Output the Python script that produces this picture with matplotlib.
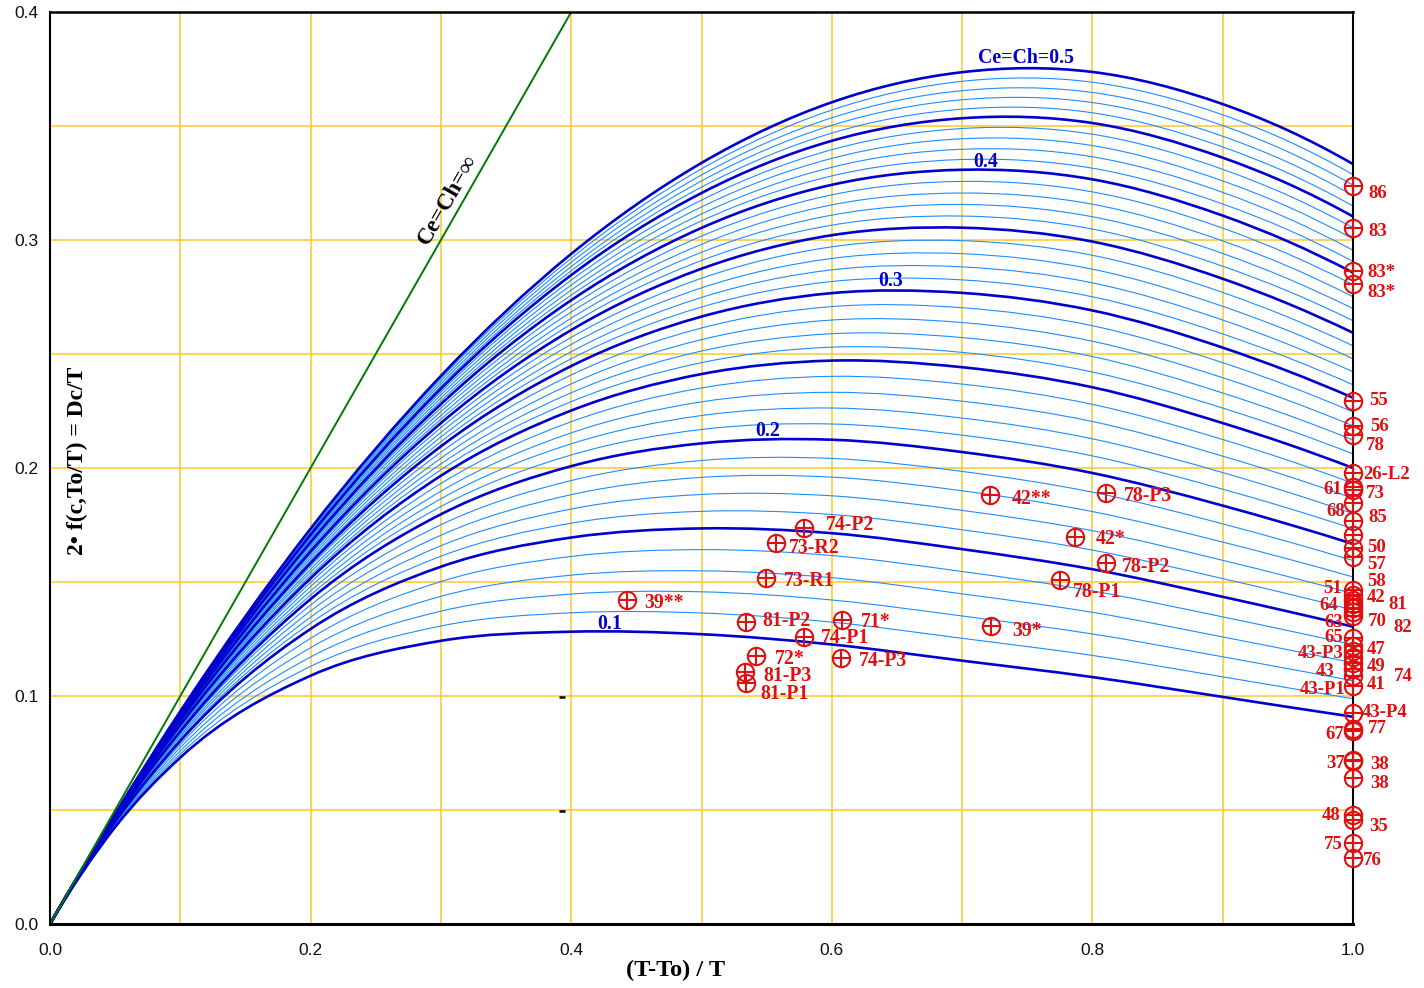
import matplotlib
matplotlib.use("Agg")
import matplotlib.pyplot as plt
from matplotlib.path import Path
from matplotlib.patches import PathPatch
import numpy as np

# ---------------------------------------------------------------------------
# Data
# ---------------------------------------------------------------------------
# Abscissa (T-To)/T at which every curve is tabulated
x_grid = [0.0, 0.05, 0.10, 0.20, 0.30, 0.40, 0.50, 0.60, 0.70, 0.80, 0.90, 0.95, 1.00]

# 2*f(c, To/T) for Ce = Ch = c, one list per c value
y_c10 = [0, 0.0425, 0.0730, 0.1089, 0.1242, 0.1282, 0.1271, 0.1226, 0.1155, 0.1083, 0.0996, 0.0952, 0.0909]
y_c11 = [0, 0.0430, 0.0745, 0.1130, 0.1307, 0.1365, 0.1364, 0.1324, 0.1253, 0.1178, 0.1084, 0.1036, 0.0988]
y_c12 = [0, 0.0434, 0.0759, 0.1171, 0.1372, 0.1447, 0.1457, 0.1421, 0.1351, 0.1272, 0.1172, 0.1120, 0.1067]
y_c13 = [0, 0.0439, 0.0774, 0.1212, 0.1437, 0.1530, 0.1549, 0.1519, 0.1448, 0.1367, 0.1259, 0.1203, 0.1146]
y_c14 = [0, 0.0443, 0.0788, 0.1253, 0.1502, 0.1612, 0.1642, 0.1616, 0.1546, 0.1461, 0.1347, 0.1287, 0.1225]
y_c15 = [0, 0.0448, 0.0803, 0.1294, 0.1567, 0.1695, 0.1735, 0.1714, 0.1644, 0.1556, 0.1435, 0.1371, 0.1304]
y_c16 = [0, 0.0450, 0.0811, 0.1320, 0.1613, 0.1758, 0.1810, 0.1796, 0.1729, 0.1640, 0.1515, 0.1448, 0.1377]
y_c17 = [0, 0.0453, 0.0820, 0.1346, 0.1659, 0.1820, 0.1884, 0.1878, 0.1814, 0.1725, 0.1595, 0.1524, 0.1449]
y_c18 = [0, 0.0455, 0.0828, 0.1373, 0.1705, 0.1883, 0.1959, 0.1960, 0.1900, 0.1809, 0.1675, 0.1601, 0.1522]
y_c19 = [0, 0.0458, 0.0837, 0.1399, 0.1751, 0.1945, 0.2033, 0.2042, 0.1985, 0.1894, 0.1755, 0.1677, 0.1594]
y_c20 = [0, 0.0460, 0.0845, 0.1425, 0.1797, 0.2008, 0.2108, 0.2124, 0.2070, 0.1978, 0.1835, 0.1754, 0.1667]
y_c21 = [0, 0.0461, 0.0851, 0.1443, 0.1831, 0.2057, 0.2169, 0.2193, 0.2144, 0.2053, 0.1907, 0.1824, 0.1734]
y_c22 = [0, 0.0463, 0.0856, 0.1461, 0.1865, 0.2106, 0.2230, 0.2263, 0.2219, 0.2128, 0.1980, 0.1894, 0.1800]
y_c23 = [0, 0.0464, 0.0862, 0.1480, 0.1898, 0.2154, 0.2290, 0.2332, 0.2293, 0.2204, 0.2052, 0.1964, 0.1867]
y_c24 = [0, 0.0466, 0.0867, 0.1498, 0.1932, 0.2203, 0.2351, 0.2402, 0.2368, 0.2279, 0.2125, 0.2034, 0.1933]
y_c25 = [0, 0.0467, 0.0873, 0.1516, 0.1966, 0.2252, 0.2412, 0.2471, 0.2442, 0.2354, 0.2197, 0.2104, 0.2000]
y_c26 = [0, 0.0468, 0.0877, 0.1529, 0.1992, 0.2291, 0.2462, 0.2530, 0.2507, 0.2421, 0.2263, 0.2168, 0.2062]
y_c27 = [0, 0.0469, 0.0881, 0.1543, 0.2018, 0.2330, 0.2513, 0.2589, 0.2572, 0.2489, 0.2329, 0.2232, 0.2123]
y_c28 = [0, 0.0470, 0.0884, 0.1556, 0.2043, 0.2369, 0.2563, 0.2649, 0.2638, 0.2556, 0.2396, 0.2297, 0.2185]
y_c29 = [0, 0.0471, 0.0888, 0.1570, 0.2069, 0.2408, 0.2614, 0.2708, 0.2703, 0.2624, 0.2462, 0.2361, 0.2246]
y_c30 = [0, 0.0472, 0.0892, 0.1583, 0.2095, 0.2447, 0.2664, 0.2767, 0.2768, 0.2691, 0.2528, 0.2425, 0.2308]
y_c31 = [0, 0.0473, 0.0895, 0.1593, 0.2115, 0.2479, 0.2706, 0.2818, 0.2825, 0.2751, 0.2588, 0.2484, 0.2365]
y_c32 = [0, 0.0474, 0.0898, 0.1603, 0.2136, 0.2510, 0.2748, 0.2869, 0.2882, 0.2812, 0.2649, 0.2543, 0.2422]
y_c33 = [0, 0.0474, 0.0900, 0.1614, 0.2156, 0.2542, 0.2790, 0.2919, 0.2940, 0.2872, 0.2709, 0.2603, 0.2479]
y_c34 = [0, 0.0475, 0.0903, 0.1624, 0.2177, 0.2573, 0.2832, 0.2970, 0.2997, 0.2933, 0.2770, 0.2662, 0.2536]
y_c35 = [0, 0.0476, 0.0906, 0.1634, 0.2197, 0.2605, 0.2874, 0.3021, 0.3054, 0.2993, 0.2830, 0.2721, 0.2593]
y_c36 = [0, 0.0477, 0.0908, 0.1642, 0.2214, 0.2631, 0.2910, 0.3065, 0.3105, 0.3048, 0.2885, 0.2776, 0.2646]
y_c37 = [0, 0.0477, 0.0910, 0.1650, 0.2230, 0.2657, 0.2946, 0.3109, 0.3156, 0.3102, 0.2941, 0.2830, 0.2699]
y_c38 = [0, 0.0478, 0.0913, 0.1659, 0.2247, 0.2684, 0.2981, 0.3154, 0.3206, 0.3157, 0.2996, 0.2885, 0.2751]
y_c39 = [0, 0.0478, 0.0915, 0.1667, 0.2263, 0.2710, 0.3017, 0.3198, 0.3257, 0.3211, 0.3052, 0.2939, 0.2804]
y_c40 = [0, 0.0479, 0.0917, 0.1675, 0.2280, 0.2736, 0.3053, 0.3242, 0.3308, 0.3266, 0.3107, 0.2994, 0.2857]
y_c41 = [0, 0.0479, 0.0919, 0.1681, 0.2294, 0.2758, 0.3084, 0.3281, 0.3353, 0.3315, 0.3158, 0.3045, 0.2906]
y_c42 = [0, 0.0480, 0.0921, 0.1688, 0.2307, 0.2780, 0.3114, 0.3319, 0.3398, 0.3365, 0.3209, 0.3095, 0.2955]
y_c43 = [0, 0.0480, 0.0922, 0.1694, 0.2321, 0.2802, 0.3145, 0.3358, 0.3444, 0.3414, 0.3259, 0.3146, 0.3005]
y_c44 = [0, 0.0481, 0.0924, 0.1701, 0.2334, 0.2824, 0.3175, 0.3396, 0.3489, 0.3464, 0.3310, 0.3196, 0.3054]
y_c45 = [0, 0.0481, 0.0926, 0.1707, 0.2348, 0.2846, 0.3206, 0.3435, 0.3534, 0.3513, 0.3361, 0.3247, 0.3103]
y_c46 = [0, 0.0481, 0.0927, 0.1712, 0.2359, 0.2865, 0.3232, 0.3469, 0.3574, 0.3558, 0.3408, 0.3294, 0.3149]
y_c47 = [0, 0.0482, 0.0929, 0.1718, 0.2370, 0.2883, 0.3259, 0.3503, 0.3615, 0.3603, 0.3455, 0.3341, 0.3195]
y_c48 = [0, 0.0482, 0.0930, 0.1723, 0.2382, 0.2902, 0.3285, 0.3536, 0.3655, 0.3647, 0.3502, 0.3387, 0.3241]
y_c49 = [0, 0.0483, 0.0932, 0.1729, 0.2393, 0.2920, 0.3312, 0.3570, 0.3696, 0.3692, 0.3549, 0.3434, 0.3287]
y_c50 = [0, 0.0483, 0.0933, 0.1734, 0.2404, 0.2939, 0.3338, 0.3604, 0.3736, 0.3737, 0.3596, 0.3481, 0.3333]

curve_c = [0.10, 0.11, 0.12, 0.13, 0.14, 0.15, 0.16, 0.17, 0.18, 0.19,
           0.20, 0.21, 0.22, 0.23, 0.24, 0.25, 0.26, 0.27, 0.28, 0.29,
           0.30, 0.31, 0.32, 0.33, 0.34, 0.35, 0.36, 0.37, 0.38, 0.39,
           0.40, 0.41, 0.42, 0.43, 0.44, 0.45, 0.46, 0.47, 0.48, 0.49, 0.50]
curve_y = [y_c10, y_c11, y_c12, y_c13, y_c14, y_c15, y_c16, y_c17, y_c18, y_c19,
           y_c20, y_c21, y_c22, y_c23, y_c24, y_c25, y_c26, y_c27, y_c28, y_c29,
           y_c30, y_c31, y_c32, y_c33, y_c34, y_c35, y_c36, y_c37, y_c38, y_c39,
           y_c40, y_c41, y_c42, y_c43, y_c44, y_c45, y_c46, y_c47, y_c48, y_c49, y_c50]

# Reversible limit Ce = Ch = infinity
carnot_x = [0.0, 0.4]
carnot_y = [0.0, 0.4]

# Observed cases inside the chart
inner_names = ["39**", "81-P2", "71*", "74-P1", "72*", "74-P3", "81-P3", "81-P1",
               "73-R1", "73-R2", "74-P2", "42**", "78-P3", "42*", "78-P2", "78-P1", "39*"]
inner_x = [0.4428, 0.5339, 0.6076, 0.5788, 0.5420, 0.6073, 0.5336, 0.5341,
           0.5498, 0.5575, 0.5788, 0.7212, 0.8105, 0.7864, 0.8105, 0.7754, 0.7225]
inner_y = [0.1421, 0.1326, 0.1333, 0.1260, 0.1175, 0.1168, 0.1107, 0.1056,
           0.1516, 0.1670, 0.1736, 0.1882, 0.1892, 0.1699, 0.1582, 0.1509, 0.1307]

# Observed cases at (T-To)/T = 1
edge_names = ["86", "83", "83*", "83*", "55", "56", "78", "26-L2", "61", "73",
              "68", "85", "50", "57", "58", "51", "42", "81", "64", "63",
              "70", "82", "65", "47", "43-P3", "49", "43", "74", "41", "43-P1",
              "43-P4", "77", "67", "37", "38", "38", "48", "35", "75", "76"]
edge_y = [0.3237, 0.3051, 0.2864, 0.2806, 0.2294, 0.2184, 0.2145, 0.1978, 0.1917, 0.1904,
          0.1846, 0.1768, 0.1706, 0.1649, 0.1610, 0.1465, 0.1443, 0.1421, 0.1404, 0.1386,
          0.1368, 0.1351, 0.1254, 0.1219, 0.1197, 0.1171, 0.1145, 0.1118, 0.1088, 0.1044,
          0.0925, 0.0855, 0.0846, 0.0719, 0.0715, 0.0640, 0.0478, 0.0456, 0.0355, 0.0289]

# Two small stray dashes in the plot area
stray_x = [0.393, 0.393]
stray_y = [0.0996, 0.0496]

x_ticks = [0.0, 0.2, 0.4, 0.6, 0.8, 1.0]
x_tick_labels = ["0.0", "0.2", "0.4", "0.6", "0.8", "1.0"]
y_ticks = [0.0, 0.1, 0.2, 0.3, 0.4]
y_tick_labels = ["0.0", "0.1", "0.2", "0.3", "0.4"]

# ---------------------------------------------------------------------------
# Layout / style
# ---------------------------------------------------------------------------
SERIF = ["Liberation Serif", "DejaVu Serif"]
SANS = ["Liberation Sans", "DejaVu Sans"]
RED = "#E01010"
DARK_BLUE = "#0000CC"
LIGHT_BLUE = "#1E8CFF"
GRID = "#FFC72C"
INNER_FS = 14.2
EDGE_FS = 13.5

# label offsets (pixels): dx to the anchored text edge, dy of text centre (down +)
inner_offsets = [(17, 1), (17, -2), (19, 0), (17, 0), (19, 1), (18, 2), (18, 3), (14, 9),
                 (17, 1), (12, 3), (22, -5), (22, 2), (18, 2), (21, 1), (16, 2), (13, 10), (21, 3)]
edge_offsets = [(15, 6), (15, 1), (14, 0), (14, 6), (16, -2), (17, -1), (13, 9), (10, 0), (-11, 1), (13, 2),
                (-8, 7), (15, -5), (14, 11), (14, 15), (14, 23), (-11, -3), (14, 1), (35, 3), (-15, 0), (-10, 13),
                (15, 8), (40, 10), (-10, -2), (14, 2), (-10, 1), (14, 8), (-18, 7), (41, 6), (14, 7), (-8, 2),
                (9, -2), (15, -2), (-9, 2), (-8, 2), (17, 2), (17, 4), (-12, -1), (16, 5), (-10, 0), (10, 1)]


def smooth_path(xs, ys):
    """Cubic Bezier path through the tabulated points (Bessel tangents)."""
    xs = np.asarray(xs, float)
    ys = np.asarray(ys, float)
    h = np.diff(xs)
    d = np.diff(ys) / h
    m = np.empty(len(xs))
    m[1:-1] = (h[1:] * d[:-1] + h[:-1] * d[1:]) / (h[:-1] + h[1:])
    m[0] = 2 * d[0] - m[1]
    m[-1] = 2 * d[-1] - m[-2]
    verts = [(xs[0], ys[0])]
    codes = [Path.MOVETO]
    for i in range(len(xs) - 1):
        verts += [(xs[i] + h[i] / 3, ys[i] + m[i] * h[i] / 3),
                  (xs[i + 1] - h[i] / 3, ys[i + 1] - m[i + 1] * h[i] / 3),
                  (xs[i + 1], ys[i + 1])]
        codes += [Path.CURVE4] * 3
    return Path(verts, codes)


fig = plt.figure(figsize=(14.24, 9.88), dpi=100)
ax = fig.add_axes([50 / 1424, 64 / 988, 1303 / 1424, 912 / 988])
ax.set_xlim(0, 1)
ax.set_ylim(0, 0.4)

# grid
for gx in np.arange(1, 10) * 0.1:
    ax.axvline(gx, color=GRID, lw=1.1, zorder=0.5)
for gy in np.arange(1, 8) * 0.05:
    ax.axhline(gy, color=GRID, lw=1.1, zorder=0.5)

# curve family
for c, ys in zip(curve_c, curve_y):
    major = int(round(c * 100)) % 5 == 0
    patch = PathPatch(smooth_path(x_grid, ys), fill=False,
                      edgecolor=DARK_BLUE if major else LIGHT_BLUE,
                      lw=1.9 if major else 0.8, zorder=3 if major else 2,
                      capstyle="round", joinstyle="round")
    ax.add_patch(patch)

ax.plot(carnot_x, carnot_y, color="#007A00", lw=1.4, zorder=4)

# curve labels
curve_label_style = dict(ha="center", va="center", fontsize=14.3, fontweight="bold",
                         family=SERIF, color=DARK_BLUE, zorder=5)
ax.text(0.7493, 0.3798, "Ce=Ch=0.5", **curve_label_style)
ax.text(0.7179, 0.3342, "0.4", **curve_label_style)
ax.text(0.6449, 0.2820, "0.3", **curve_label_style)
ax.text(0.5505, 0.2162, "0.2", **curve_label_style)
ax.text(0.4299, 0.1316, "0.1", **curve_label_style)
ax.text(0.3056, 0.3178, "Ce=Ch=\u221e", rotation=60.3, rotation_mode="anchor",
        ha="center", va="center", fontsize=16.8, fontweight="bold", family=SERIF,
        color="black", zorder=5)

ax.plot(stray_x, stray_y, ls="none", marker="_", ms=4, mew=1.8, color="black", zorder=5)


def oplus(xv, yv):
    for mk in ("o", "+"):
        ax.plot(xv, yv, ls="none", marker=mk, ms=12.5, mfc="none", mec=RED,
                mew=1.5, clip_on=False, zorder=6)


def red_label(name, xv, yv, off, size):
    dx, dy = off
    ax.annotate(name, (xv, yv), xytext=(dx, -(dy + 0.465 * size)), textcoords="offset pixels",
                ha="left" if dx > 0 else "right", va="baseline",
                fontsize=size, fontweight="bold", family=SERIF, color=RED,
                annotation_clip=False, zorder=7)


oplus(inner_x, inner_y)
for name, xv, yv, off in zip(inner_names, inner_x, inner_y, inner_offsets):
    red_label(name, xv, yv, off, INNER_FS)

edge_x = [1.0] * len(edge_y)
oplus(edge_x, edge_y)
for name, xv, yv, off in zip(edge_names, edge_x, edge_y, edge_offsets):
    red_label(name, xv, yv, off, EDGE_FS)

# axes styling
ax.set_xticks(x_ticks)
ax.set_xticklabels(x_tick_labels)
ax.set_yticks(y_ticks)
ax.set_yticklabels(y_tick_labels)
ax.tick_params(axis="both", length=0, labelsize=12.5, labelcolor="#111111")
ax.tick_params(axis="x", pad=14)
ax.tick_params(axis="y", pad=8)
for lab in ax.get_xticklabels() + ax.get_yticklabels():
    lab.set_family(SANS)
for side, lw in (("bottom", 2.2), ("top", 1.8), ("left", 1.5), ("right", 1.5)):
    ax.spines[side].set_linewidth(lw)
    ax.spines[side].set_color("black")
    ax.spines[side].set_zorder(5)

fig.text(676 / 1424, 1 - 970 / 988, "(T-To) / T", ha="center", va="center",
         fontsize=17.5, fontweight="bold", family=SERIF)
fig.text(77 / 1424, 1 - 461 / 988, "2\u2022 f(c,To/T) = Dc/T", ha="center", va="center",
         rotation=90, fontsize=17, fontweight="bold", family=SERIF)

fig.savefig("out.png", dpi=100)
